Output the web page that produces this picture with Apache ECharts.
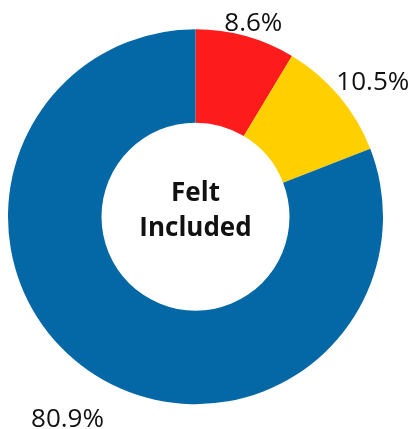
<!DOCTYPE html>
<html>
<head>
<meta charset="utf-8">
<script src="https://cdn.jsdelivr.net/npm/echarts@6/dist/echarts.min.js"></script>
<style>
html,body{margin:0;padding:0;background:#fff;}
#c{width:413px;height:429px;}
</style>
</head>
<body>
<div id="c"></div>
<script>
const categories = ['Not felt included', 'Somewhat', 'Felt included'];
const values = [8.6, 10.5, 80.9];
const colors = ['#fe1b1b', '#ffcf00', '#0467a6'];
const centerLabel = 'Felt\nIncluded';

const CX = 195.5, CY = 216.7, R_IN = 94, R_OUT = 187.5;
const labelGap = [0, 8, 33];
const labelShift = [0, 0, -4.5];
const total = values.reduce((a, b) => a + b, 0);
const midAngles = [];
let acc = 0;
values.forEach(v => { midAngles.push((acc + v / 2) / total * Math.PI * 2); acc += v; });

const chart = echarts.init(document.getElementById('c'), null, {renderer: 'canvas'});
chart.setOption({
  animation: false,
  graphic: [{
    type: 'text',
    x: CX, y: 211,
    style: {
      text: centerLabel,
      font: 'bold 26px "Open Sans"',
      fill: '#111',
      align: 'center',
      verticalAlign: 'middle',
      lineHeight: 35
    }
  }],
  series: [{
    type: 'pie',
    center: [CX, CY],
    radius: [R_IN, R_OUT],
    startAngle: 90,
    clockwise: true,
    avoidLabelOverlap: false,
    data: categories.map((c, i) => ({name: c, value: values[i], itemStyle: {color: colors[i]}})),
    label: {
      show: true,
      position: 'outside',
      formatter: p => p.value.toFixed(1) + '%',
      fontFamily: 'Open Sans',
      fontSize: 26,
      color: '#111'
    },
    labelLine: {show: false},
    labelLayout: function (params) {
      const i = params.dataIndex;
      const a = midAngles[i] + labelShift[i] * Math.PI / 180;
      const dx = Math.sin(a), dy = -Math.cos(a);
      const r = R_OUT + labelGap[i];
      const w = params.labelRect.width, h = params.labelRect.height;
      return {
        x: CX + r * dx + dx * w / 2,
        y: CY + r * dy + dy * h / 2,
        align: 'center',
        verticalAlign: 'middle'
      };
    },
    emphasis: {disabled: true}
  }]
});
</script>
</body>
</html>
